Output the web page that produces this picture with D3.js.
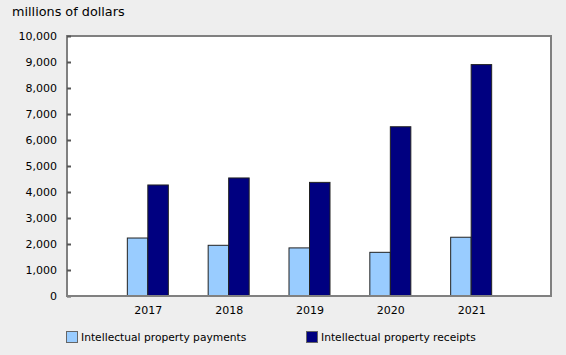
<!DOCTYPE html>
<html><head><meta charset="utf-8">
<script src="https://cdn.jsdelivr.net/npm/d3@7"></script>
<style>
html,body{margin:0;padding:0;background:#eeeeee;}
svg{display:block;font-family:Verdana,"DejaVu Sans",sans-serif;}
</style></head>
<body><svg id="c" width="566" height="355"></svg>
<script>
const categories = ["2017","2018","2019","2020","2021"];
const payments = [2230, 1950, 1850, 1680, 2260];
const receipts = [4270, 4540, 4370, 6510, 8900];
const seriesNames = ["Intellectual property payments","Intellectual property receipts"];
const colors = ["#99ccff","#000080"];
const yTicks = [0,1000,2000,3000,4000,5000,6000,7000,8000,9000,10000];

const svg = d3.select("#c");
const L=67, R=552, T=36, B=296;
const x = d3.scalePoint().domain(categories).range([L,R]).padding(1);
const y = d3.scaleLinear().domain([0,10000]).range([B,T]);
const bw = 20.5;

svg.append("rect").attr("x",L).attr("y",T).attr("width",R-L-1).attr("height",B-T)
  .attr("fill","#fff").attr("stroke","#808080").attr("stroke-width",2);

const fmt = d3.format(",");
const yAxis = d3.axisLeft(y).tickValues(yTicks).tickFormat(fmt).tickSize(-4).tickPadding(10);
const ga = svg.append("g").attr("transform",`translate(${L},0)`).call(yAxis);
ga.select(".domain").remove();
ga.selectAll(".tick line").attr("stroke","#555").attr("stroke-width",2);
ga.selectAll(".tick text").attr("font-size",11).attr("fill","#000").attr("font-family","Verdana,'DejaVu Sans',sans-serif");

const data = [payments, receipts];
data.forEach((vals,si)=>{
  svg.append("g").selectAll("rect").data(vals).enter().append("rect")
    .attr("x",(d,i)=>x(categories[i]) + (si===0? -bw : 0))
    .attr("y",d=>y(d))
    .attr("width",bw)
    .attr("height",d=>B-y(d))
    .attr("fill",colors[si])
    .attr("stroke","#222").attr("stroke-width",1);
});

svg.append("line").attr("x1",L-1).attr("x2",R).attr("y1",B).attr("y2",B).attr("stroke","#808080").attr("stroke-width",2);

const xAxis = d3.axisBottom(x).tickSize(0).tickPadding(10);
const gx = svg.append("g").attr("transform",`translate(0,${B})`).call(xAxis);
gx.select(".domain").remove();
gx.selectAll(".tick text").attr("font-size",11).attr("fill","#000").attr("font-family","Verdana,'DejaVu Sans',sans-serif");

svg.append("text").attr("x",12).attr("y",16).attr("font-size",12.8).attr("fill","#000").text("millions of dollars");

const legX = [66, 306];
seriesNames.forEach((n,i)=>{
  const g = svg.append("g").attr("transform",`translate(${legX[i]},331)`);
  g.append("rect").attr("x",0.5).attr("y",0.5).attr("width",11).attr("height",11)
    .attr("fill",colors[i]).attr("stroke","#666").attr("stroke-width",1);
  g.append("text").attr("x",15).attr("y",10).attr("font-size",10.7).attr("fill","#000").text(n);
});
</script></body></html>
